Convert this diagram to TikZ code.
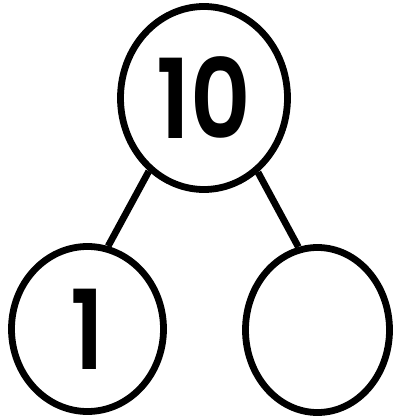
\documentclass[tikz,border=0pt]{standalone}
\usepackage{fontspec}
\setmainfont{Poppins}[BoldFont={Poppins SemiBold}]
\usetikzlibrary{shapes.geometric, positioning}

\newcommand{\bondnum}[1]{\scalebox{0.9}[1.06]{#1}}

\begin{document}
\begin{tikzpicture}[
    x=1pt, y=-1pt,
    bond/.style={ellipse, draw=black, line width=6.8pt, fill=white, inner sep=0pt,
                 font=\fontsize{104}{104}\selectfont\bfseries},
    link/.style={line width=6.8pt}
]
\useasboundingbox (0,0) rectangle (394,417);

% whole and parts
\node[bond, minimum width=167pt, minimum height=183pt] (whole) at (204,98) {\bondnum{10}};
\node[bond, minimum width=152pt, minimum height=165pt] (partA) at (87.5,329) {\bondnum{1}};
\node[bond, minimum width=144pt, minimum height=165pt] (partB) at (317.5,330) {};

\draw[link] (whole.233) -- (partA.76);
\draw[link] (whole.306) -- (partB.103);
\end{tikzpicture}
\end{document}
